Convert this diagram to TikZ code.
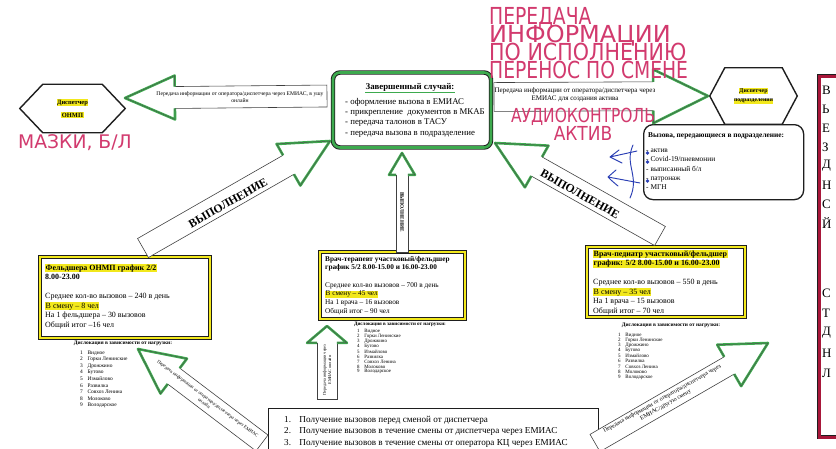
\documentclass[tikz,border=0pt]{standalone}
\usepackage{fontspec}
\setmainfont{Liberation Serif}
\newfontfamily\handfont[FakeStretch=0.8]{DejaVu Sans}
\newfontfamily\handwide{DejaVu Sans}
\usetikzlibrary{positioning,calc}
\definecolor{penpink}{HTML}{D23A6E}
\definecolor{boxgreen}{HTML}{3DAA4E}
\definecolor{hlyellow}{HTML}{F2E81C}
\definecolor{framered}{HTML}{A8173A}
\definecolor{penblue}{HTML}{2B3FB5}
\definecolor{ink}{HTML}{1E1E1E}

\newcommand\pxu{0.03cm}
\newcommand\fsz[2]{\fontsize{#1}{#2}\selectfont}
\newcommand\hlite[1]{{\setlength\fboxsep{0.4pt}\colorbox{hlyellow}{#1}}}

\tikzset{
  shaftline/.style={draw=ink!85, line width=0.5pt},
  headline/.style={draw=boxgreen, line width=2.2pt, line join=round},
  headedge/.style={draw=ink!80, line width=0.35pt},
  hexline/.style={draw=ink, line width=1.2pt, line join=miter},
  hexcore/.style={inner sep=0pt, align=center, font=\bfseries\fsz{5.5}{6}},
  mainbox/.style={draw=ink, line width=0.8pt, double=boxgreen, double distance=2.2pt, rounded corners=6pt},
  ybox/.style={draw=ink, line width=0.7pt, double=hlyellow, double distance=2.2pt, inner sep=0pt},
  callbox/.style={draw=ink, line width=1.1pt, rounded corners=8pt},
  redframe/.style={draw=ink, line width=0.6pt, double=framered, double distance=2pt, inner sep=0pt},
  listtext/.style={inner sep=0pt, align=left},
  arrowtext/.style={inner sep=0pt, align=center},
  stn/.style={anchor=west, inner sep=0pt},
  stntitle/.style={font=\bfseries\fsz{4.6}{5}, inner sep=0pt},
  sideletter/.style={anchor=west, inner sep=0pt, font=\fsz{11}{12}},
  handtext/.style={penpink, inner sep=0pt},
  bluepen/.style={penblue, line width=0.8pt, line cap=round, line join=round}
}

% block arrow: tail, tip, shaft half width, head half width, head length (px)
\newcommand\blockarr[5]{%
  \path (#1); \pgfgetlastxy{\arx}{\ary}
  \path (#2); \pgfgetlastxy{\brx}{\bry}
  \pgfmathsetmacro\arang{atan2((\bry)-(\ary),(\brx)-(\arx))}
  \pgfmathsetmacro\arlen{veclen((\brx)-(\arx),(\bry)-(\ary))}
  \pgfmathsetmacro\arw{#3*0.8504}
  \pgfmathsetmacro\arh{#4*0.8504}
  \pgfmathsetmacro\arb{\arlen-#5*0.8504}
  \begin{scope}[shift={(#1)}, rotate=\arang]
    \fill[white] (0pt,-\arw pt) -- (\arb pt,-\arw pt) -- (\arb pt,-\arh pt) -- (\arlen pt,0pt)
      -- (\arb pt,\arh pt) -- (\arb pt,\arw pt) -- (0pt,\arw pt) -- cycle;
    \draw[shaftline] (\arb pt,\arw pt) -- (0pt,\arw pt) -- (0pt,-\arw pt) -- (\arb pt,-\arw pt);
    \draw[headline] (\arb pt,-\arw pt) -- (\arb pt,-\arh pt) -- (\arlen pt,0pt) -- (\arb pt,\arh pt) -- (\arb pt,\arw pt);
    \draw[headedge] (\arb pt,-\arw pt) -- (\arb pt,-\arh pt) -- (\arlen pt,0pt) -- (\arb pt,\arh pt) -- (\arb pt,\arw pt);
  \end{scope}}

\begin{document}
\begin{tikzpicture}[x=0.03cm, y=-0.03cm, font=\fsz{7}{8.5}]
  \useasboundingbox (0,0) rectangle (836,449);
  \fill[white] (0,0) rectangle (836,449);

  % dispatchers
  \node[hexcore, minimum width=59*\pxu, minimum height=48*\pxu] (dleft) at (72.5,108.5) {\hlite{Диспетчер}\\[5pt]\hlite{ОНМП}};
  \draw[hexline] ([xshift=-23*\pxu]dleft.west) -- (dleft.north west) -- (dleft.north east) -- ([xshift=23*\pxu]dleft.east) -- (dleft.south east) -- (dleft.south west) -- cycle;
  \node[hexcore, font=\bfseries\fsz{5}{6}, minimum width=57*\pxu, minimum height=56*\pxu] (dright) at (753.5,96) {\hlite{Диспетчер}\\[2pt]\hlite{подразделения}};
  \draw[hexline] ([xshift=-15*\pxu]dright.west) -- (dright.north west) -- (dright.north east) -- ([xshift=15*\pxu]dright.east) -- (dright.south east) -- (dright.south west) -- cycle;

  % finished case
  \node[mainbox, minimum width=158*\pxu, minimum height=75*\pxu] (done) at (412,110) {};
  \node[font=\bfseries\fsz{7.5}{9}, inner sep=0pt] (donetitle) at (410,87) {Завершенный случай:};
  \draw[boxgreen, line width=0.9pt] ([yshift=-1.2pt]donetitle.south west) -- ([yshift=-1.2pt]donetitle.south east);
  \node[listtext, anchor=north west, font=\fsz{7.5}{8.8}] (doneitems) at (345,98) {- оформление вызова в ЕМИАС\\- прикрепление\ \ документов в МКАБ\\- передача талонов в ТАСУ\\- передача вызова в подразделение};

  % calls to the unit
  \node[callbox, anchor=north west, minimum width=160*\pxu, minimum height=75*\pxu] (calls) at (643,124) {};
  \node[font=\bfseries\fsz{6.3}{7}, anchor=west, inner sep=0pt] (callstitle) at (648,136) {Вызова, передающиеся в подразделение:};
  \node[listtext, anchor=north west, font=\fsz{6.3}{7.9}] (callsitems) at (646,149) {- актив\\- Covid-19/пневмонии\\- выписанный б/л\\- патронаж\\- МГН};
  \foreach \yy in {153,162,181} \fill[penblue] (647.5,\yy) circle(1.8);
  \draw[bluepen] (637,151) -- (610,157) -- (619,150) (610,157) -- (622,163);
  \draw[bluepen] (640,183) -- (608,177) -- (616,170) (608,177) .. controls (612,181) .. (618,186);
  \draw[bluepen] (633,145) .. controls (624,165) and (640,176) .. (630,198);

  % side frame
  \node[redframe, anchor=north west, minimum width=41*\pxu, minimum height=361*\pxu] (sidebox) at (819,76) {};
  \foreach \ch [count=\i] in {В,Ь,Е,З,Д,Н,С,Й} \node[sideletter] (sa\i) at (822,{90+19*(\i-1)}) {\ch};
  \foreach \ch [count=\i] in {С,Т,Д,Н,Л} \node[sideletter] (sb\i) at (822,{293+20*(\i-1)}) {\ch};

  % staff boxes
  \node[ybox, minimum width=170*\pxu, minimum height=81*\pxu] (feld) at (125,297.5) {};
  \node[listtext, anchor=north west, font=\fsz{6.8}{8.1}] (feldtxt) at (45,264) {\textbf{\hlite{Фельдшера ОНМП график 2/2}}\\\textbf{8.00-23.00}\\[8.1pt]Среднее кол-во вызовов – 240 в день\\\hlite{В смену – 8 чел}\\На 1 фельдшера – 30 вызовов\\Общий итог –16 чел};
  \node[ybox, minimum width=145*\pxu, minimum height=67*\pxu] (ther) at (392.5,285.5) {};
  \node[listtext, anchor=north west, font=\fsz{6.2}{7.4}] (thertxt) at (325,256) {\textbf{Врач-терапевт участковый/фельдшер}\\\textbf{график 5/2 8.00-15.00 и 16.00-23.00}\\[7.4pt]Среднее кол-во вызовов – 700 в день\\\hlite{В смену – 45 чел}\\На 1 врача – 16 вызовов\\Общий итог – 90 чел};
  \node[ybox, minimum width=158*\pxu, minimum height=70*\pxu] (ped) at (666,282) {};
  \node[listtext, anchor=north west, font=\fsz{6.8}{8.1}] (pedtxt) at (593,250) {\textbf{\hlite{Врач-педиатр участковый/фельдшер}}\\\textbf{\hlite{график: 5/2 8.00-15.00 и 16.00-23.00}}\\[8.1pt]Среднее кол-во вызовов – 550 в день\\\hlite{В смену – 35 чел}\\На 1 врача – 15 вызовов\\Общий итог – 70 чел};

  % dislocation lists
  \node[stntitle] (ldisl) at (123,343) {Дислокация в зависимости от нагрузки:};
  \node[stntitle, font=\bfseries\fsz{4.3}{5}] (mdisl) at (400,324) {Дислокация в зависимости от нагрузки:};
  \node[stntitle] (rdisl) at (671,325) {Дислокация в зависимости от нагрузки:};
  \foreach \lx/\ly/\dy/\fz/\tg in {80/353/6.5/4.6/l, 357/331/5.1/4.2/m, 618/335/5.25/4.3/r}{
    \foreach \nm [count=\i] in {Видное, Горки Ленинские, Дрожжино, Бутово, Измайлово, Развилка, Совхоз Ленина, Молоково, Володарское}
      \node[stn, font=\fsz{\fz}{\fz}] (\tg s\i) at (\lx,{\ly+\dy*(\i-1)}) {\i\hspace{4pt}\nm};
  }

  % receiving calls
  \node[draw=ink, line width=0.6pt, anchor=north west, minimum width=330*\pxu, minimum height=60*\pxu] (recv) at (268,408) {};
  \node[listtext, anchor=north west, font=\fsz{7.8}{9.8}] (recvtxt) at (284,416) {\makebox[13pt][l]{1.}Получение вызовов перед сменой от диспетчера\\\makebox[13pt][l]{2.}Получение вызовов в течение смены от диспетчера через ЕМИАС\\\makebox[13pt][l]{3.}Получение вызовов в течение смены от оператора КЦ через ЕМИАС};

  % block arrows
  \coordinate (a1s) at (327,96);  \coordinate (a1e) at (125,98);
  \coordinate (a2s) at (494,97);  \coordinate (a2e) at (708,96);
  \coordinate (a3s) at (143,248); \coordinate (a3e) at (330,141);
  \coordinate (a4s) at (402,252); \coordinate (a4e) at (402,153);
  \coordinate (a5s) at (660,236); \coordinate (a5e) at (495,143);
  \coordinate (a6s) at (262,443); \coordinate (a6e) at (138,349);
  \coordinate (a7s) at (327,399); \coordinate (a7e) at (327,326);
  \coordinate (a8s) at (595,443); \coordinate (a8e) at (768,343);
  \blockarr{a1s}{a1e}{11}{22}{50}
  \blockarr{a2s}{a2e}{14.5}{27}{55}
  \blockarr{a3s}{a3e}{11}{24}{48}
  \blockarr{a4s}{a4e}{6}{13}{22}
  \blockarr{a5s}{a5e}{11}{24}{48}
  \blockarr{a6s}{a6e}{10}{22}{45}
  \blockarr{a7s}{a7e}{10}{20}{17}
  \blockarr{a8s}{a8e}{10}{24}{45}

  \node[arrowtext, font=\fsz{4.8}{5.6}] (a1txt) at (240,97) {Передача информации от оператора/диспетчера через ЕМИАС, в ушу\\онлайн};
  \node[arrowtext, font=\fsz{6}{7.2}] (a2txt) at (575,95) {Передача информации от оператора/диспетчера через\\ЕМИАС для создания актива};
  \node[font=\bfseries\fsz{10}{10}, inner sep=0pt, rotate=29.8] (a3txt) at (228,203) {ВЫПОЛНЕНИЕ};
  \node[font=\bfseries\fsz{4.5}{5}, inner sep=0pt, rotate=-90] (a4txt) at (402,212) {ВЫПОЛНЕНИЕ};
  \node[font=\bfseries\fsz{10}{10}, inner sep=0pt, rotate=-29.4] (a5txt) at (580,194) {ВЫПОЛНЕНИЕ};
  \node[arrowtext, font=\fsz{4}{5}, rotate=-37] (a6txt) at (206,401) {Передача информации от оператора/диспетчера через ЕМИАС\\онлайн};
  \node[arrowtext, font=\fsz{3.6}{4.5}, rotate=90] (a7txt) at (327,370) {Передача информации через\\ЕМИАС онлайн};
  \node[arrowtext, font=\fsz{5}{6}, rotate=29.3] (a8txt) at (664,402) {Передача информации от оператора/диспетчера через\\ЕМИАС/другую смену};

  % handwritten notes
  \node[handtext, anchor=north west, align=left, font={\handfont\fsz{20}{15.3}\lineskiplimit=-30pt}] (notetop) at (489,7) {ПЕРЕДАЧА\\\scalebox{1.28}[1]{ИНФОРМАЦИИ}\\\scalebox{1.1}[1]{ПО ИСПОЛНЕНИЮ}\\ПЕРЕНОС ПО СМЕНЕ};
  \node[handtext, anchor=north, align=center, font={\handfont\fsz{16.5}{15.3}\lineskiplimit=-30pt}] (noteaudio) at (583,108) {АУДИОКОНТРОЛЬ\\\scalebox{1.1}[1]{АКТИВ}};
  \node[handtext, anchor=north west, font=\handwide\fsz{16}{16}] (notemaz) at (18,134) {МАЗКИ, Б/Л};
\end{tikzpicture}
\end{document}
